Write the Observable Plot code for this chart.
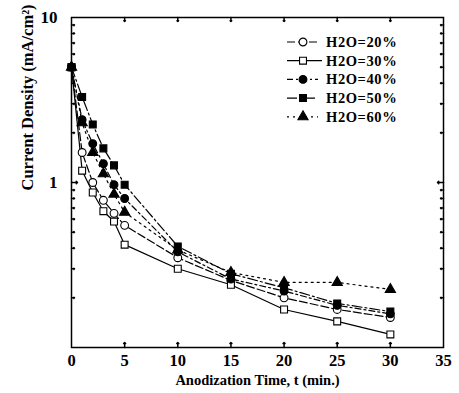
<!DOCTYPE html>
<html><head><meta charset="utf-8">
<script src="https://cdn.jsdelivr.net/npm/d3@7"></script>
<script src="https://cdn.jsdelivr.net/npm/@observablehq/plot@0.6"></script>
<style>body{margin:0;background:#fff}#chart{width:459px;height:393px}</style>
</head><body><div id="chart"></div>
<script>
// Data
const times = [0, 1, 2, 3, 4, 5, 10, 15, 20, 25, 30];
const seriesNames = ["H2O=20%", "H2O=30%", "H2O=40%", "H2O=50%", "H2O=60%"];
const h20 = [5, 1.52, 1.0, 0.78, 0.65, 0.55, 0.35, 0.255, 0.20, 0.17, 0.152];
const h30 = [5, 1.18, 0.87, 0.67, 0.58, 0.42, 0.30, 0.24, 0.17, 0.144, 0.12];
const h40 = [5, 2.4, 1.72, 1.30, 0.97, 0.80, 0.38, 0.26, 0.22, 0.18, 0.16];
const h50 = [5, 3.3, 2.25, 1.61, 1.27, 0.97, 0.41, 0.28, 0.23, 0.185, 0.165];
const h60 = [5, 2.3, 1.52, 1.13, 0.85, 0.66, 0.39, 0.285, 0.248, 0.248, 0.225];
const xTickLabels = [0, 5, 10, 15, 20, 25, 30, 35];
const yTickLabels = [1, 10];
const yMinorTicks = [0.2,0.3,0.4,0.5,0.6,0.7,0.8,0.9,2,3,4,5,6,7,8,9];
const yMajorTicks = [1];
const xInnerTicks = [5, 10, 15, 20, 25, 30];

const seriesValues = [h20, h30, h40, h50, h60];
const symbols = ["circle", "square", "circle", "square", "triangle"];
const fills = ["white", "white", "black", "black", "black"];
const dashes = ["8,3", null, "6,3,2,3", "10,3,2,3", "2,4"];
const radius = {circle: 3.9, square: 3.9, triangle: 3.8};

const marks = [];
seriesNames.forEach((name, k) => {
  const rows = times.map((t, i) => ({t, v: seriesValues[k][i]}));
  marks.push(Plot.line(rows, {x: "t", y: "v", stroke: "black", strokeWidth: 1.2, strokeDasharray: dashes[k]}));
});
seriesNames.forEach((name, k) => {
  const rows = times.map((t, i) => ({t, v: seriesValues[k][i]}));
  marks.push(Plot.dot(rows, {x: "t", y: "v", symbol: symbols[k], fill: fills[k], stroke: "black", strokeWidth: 1.1, r: radius[symbols[k]]}));
});

const font = "'Liberation Serif', 'DejaVu Serif', serif";
const chart = Plot.plot({
  width: 459, height: 393,
  marginLeft: 71, marginRight: 16, marginTop: 17, marginBottom: 46,
  style: {fontFamily: font, fontWeight: "bold", background: "white", color: "black"},
  x: {domain: [0, 35]},
  y: {type: "log", domain: [0.1, 10]},
  marks: [
    Plot.frame({stroke: "black", strokeWidth: 1.5}),
    // inward ticks
    Plot.vector(yMinorTicks, {x: 0, y: d => d, length: 3, rotate: 90, anchor: "start", stroke: "black"}),
    Plot.vector(yMajorTicks, {x: 0, y: d => d, length: 6, rotate: 90, anchor: "start", stroke: "black"}),
    Plot.vector(yMinorTicks, {x: 35, y: d => d, length: 3, rotate: -90, anchor: "start", stroke: "black"}),
    Plot.vector(yMajorTicks, {x: 35, y: d => d, length: 6, rotate: -90, anchor: "start", stroke: "black"}),
    Plot.vector(xInnerTicks, {x: d => d, y: 0.1, length: 5, rotate: 0, anchor: "start", stroke: "black"}),
    Plot.vector(xInnerTicks, {x: d => d, y: 10, length: 4, rotate: 180, anchor: "start", stroke: "black"}),
    Plot.axisX(xTickLabels, {tickSize: 0, tickPadding: 7, fontSize: 16.5, label: null, tickFormat: d => String(d)}),
    Plot.axisY(yTickLabels, {tickSize: 0, tickPadding: 14, fontSize: 17, label: null, tickFormat: d => String(d)}),
    Plot.text(["Anodization Time, t (min.)"], {frameAnchor: "bottom", dy: 37, fontSize: 14.5, fontWeight: "bold", text: d => d, style: "letter-spacing:1.2px"}),
    Plot.text(["Current Density (mA/cm\u00B2)"], {frameAnchor: "left", dx: -44, dy: 8, rotate: -90, fontSize: 16.5, fontWeight: "bold", text: d => d, style: "letter-spacing:0.8px"}),
    ...marks
  ]
});
document.getElementById("chart").appendChild(chart);

// Legend (inside the plot area, top right)
const svg = d3.select(chart);
const lg = svg.append("g").attr("font-family", font).attr("font-weight", "bold").attr("font-size", 14.5).attr("text-anchor", "start");
const symMap = {circle: d3.symbolCircle, square: d3.symbolSquare, triangle: d3.symbolTriangle};
seriesNames.forEach((name, k) => {
  const y = 42 + k * 18.7;
  lg.append("line").attr("x1", 287).attr("x2", k === 1 ? 322 : 318).attr("y1", y).attr("y2", y)
    .attr("stroke", "black").attr("stroke-width", 1.2).attr("stroke-dasharray", dashes[k]);
  const rr = radius[symbols[k]];
  lg.append("path").attr("d", d3.symbol(symMap[symbols[k]], Math.PI * rr * rr)())
    .attr("transform", `translate(303,${y})`).attr("fill", fills[k]).attr("stroke", "black").attr("stroke-width", 1.1);
  lg.append("text").attr("x", 326).attr("y", y + 5).attr("text-anchor", "start").attr("letter-spacing", "0.6px").text(name);
});
</script>
</body></html>
